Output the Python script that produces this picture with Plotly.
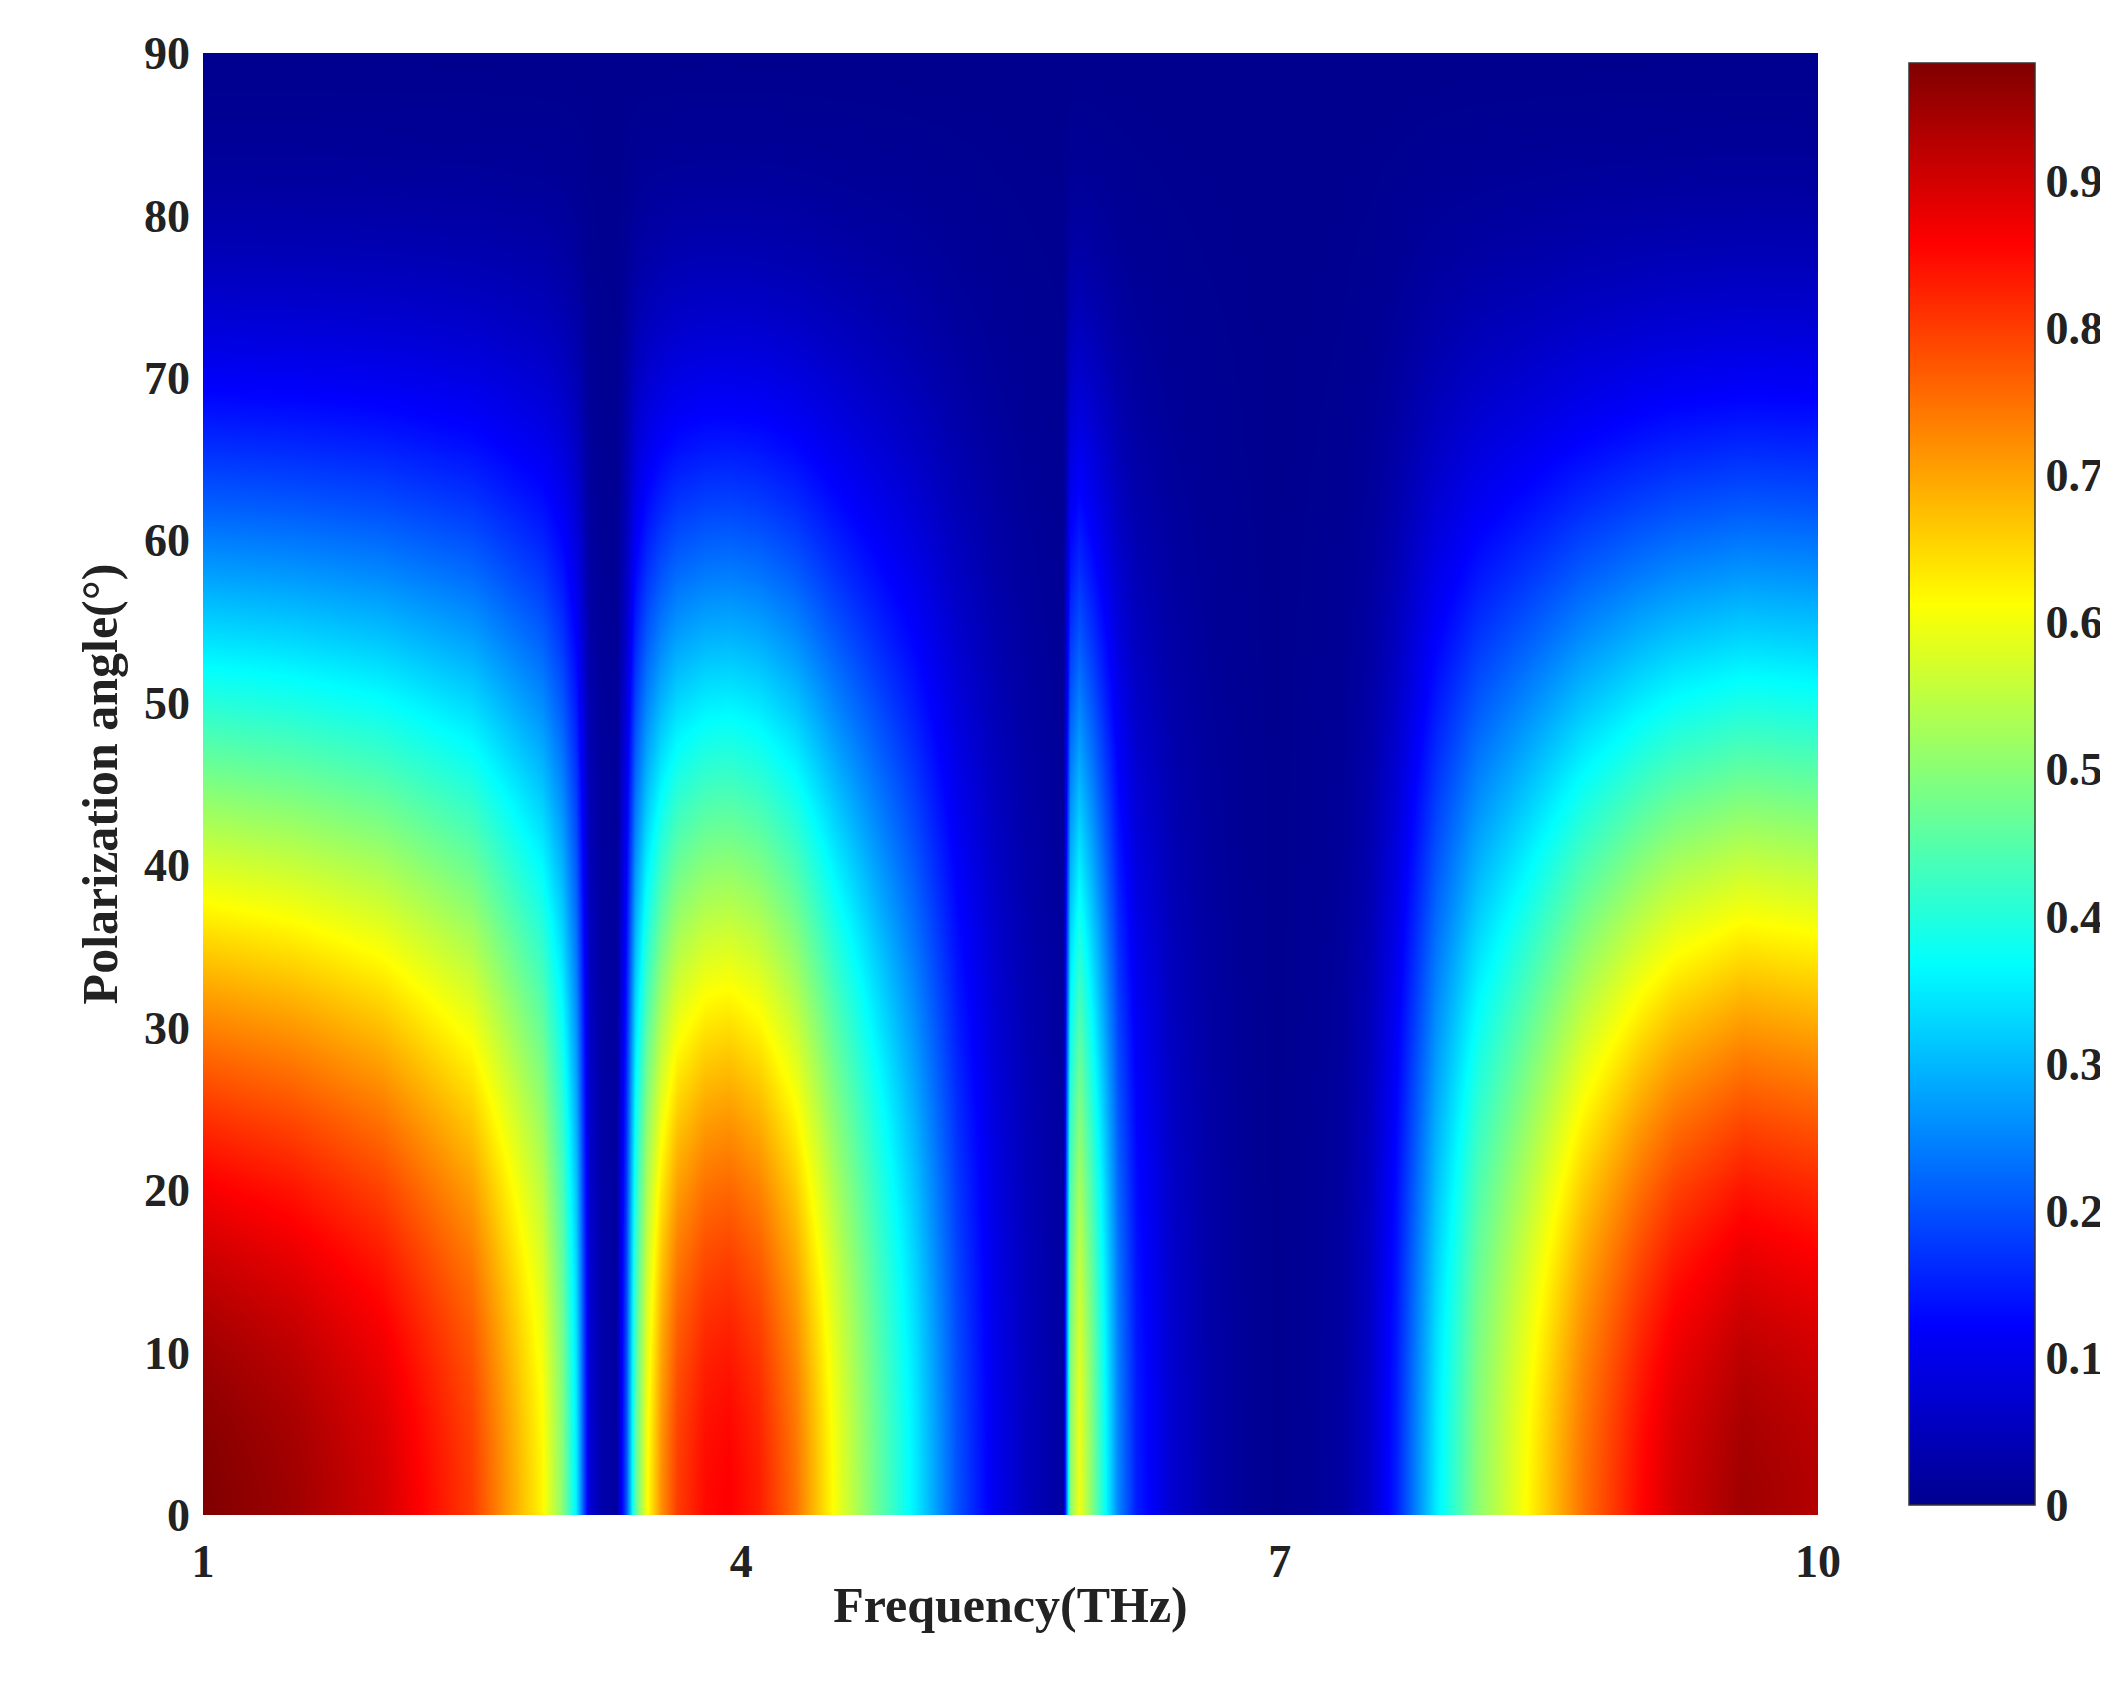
import numpy as np
import plotly.graph_objects as go

# transmission read along 0 deg polarization, frequency in THz
freq = [1.0, 1.5, 2.0, 2.5, 2.89, 3.0, 3.08, 3.15, 3.22, 3.3, 3.36, 3.41, 3.47, 3.55, 3.64, 3.8, 3.93,
        4.1, 4.3, 4.53, 4.75, 4.97, 5.2, 5.42, 5.6, 5.72, 5.79, 5.83, 5.88, 5.95, 6.02, 6.1, 6.2,
        6.4, 6.6, 6.8, 6.98, 7.2, 7.35, 7.5, 7.65, 7.87, 8.1, 8.39, 8.69, 9.0, 9.2, 9.58, 10.0]
t0 = [0.98, 0.95, 0.9, 0.8, 0.62, 0.5, 0.35, 0.08, 0.03, 0.02, 0.2, 0.45, 0.6, 0.72, 0.8, 0.85, 0.86,
      0.83, 0.75, 0.6, 0.47, 0.35, 0.2, 0.1, 0.05, 0.03, 0.02, 0.5, 0.6, 0.5, 0.38, 0.25, 0.15,
      0.07, 0.03, 0.01, 0.0, 0.01, 0.02, 0.06, 0.15, 0.35, 0.5, 0.62, 0.75, 0.85, 0.9, 0.95, 0.93]
angle = list(range(0, 91, 2))
cb_ticks = [0, 0.1, 0.2, 0.3, 0.4, 0.5, 0.6, 0.7, 0.8, 0.9]
x_ticks = [1, 4, 7, 10]
y_ticks = list(range(0, 91, 10))

# Malus-type angular dependence
z = np.outer(np.cos(np.radians(angle)) ** 2, t0)

jet = [[0, "#00008F"], [0.125, "#0000FF"], [0.375, "#00FFFF"],
       [0.625, "#FFFF00"], [0.875, "#FF0000"], [1, "#800000"]]

def bold(vals):
    return ["<b>%s</b>" % v for v in vals]

tf = dict(family="Liberation Serif", size=46, color="#222")
fig = go.Figure(go.Heatmap(
    x=freq, y=angle, z=z, zsmooth="best", colorscale=jet, zmin=0, zmax=0.98,
    colorbar=dict(tickvals=cb_ticks, ticktext=bold(cb_ticks),
                  thickness=126, len=1.0, x=1.05, xanchor="left", y=0.5,
                  outlinewidth=1.5, outlinecolor="#333", ticks="", tickfont=tf),
))
fig.update_layout(
    width=2108, height=1690, paper_bgcolor="white", plot_bgcolor="white",
    margin=dict(l=195, r=284, t=45, b=183),
    xaxis=dict(range=[1, 10], tickvals=x_ticks, ticktext=bold(x_ticks), ticks="",
               showgrid=False, tickfont=tf, ticklabelstandoff=15,
               title=dict(text="<b>Frequency(THz)</b>", standoff=0,
                          font=dict(family="Liberation Serif", size=50, color="#222"))),
    yaxis=dict(range=[0, 90], tickvals=y_ticks, ticktext=bold(y_ticks), ticks="",
               showgrid=False, tickfont=tf, ticklabelstandoff=12,
               title=dict(text="<b>Polarization angle(°)</b>", standoff=10,
                          font=dict(family="Liberation Serif", size=50, color="#222"))),
)
fig.write_html("out.html")
